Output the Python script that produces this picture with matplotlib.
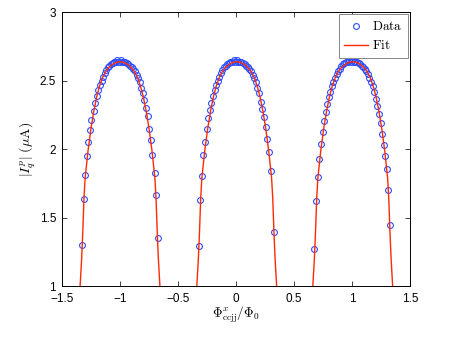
import matplotlib
matplotlib.use("Agg")
import matplotlib.pyplot as plt

plt.rcParams['mathtext.fontset'] = 'cm'
plt.rcParams['font.family'] = ['Liberation Sans', 'DejaVu Sans']

# ---- fit curve: one lobe profile (offset from lobe centre, current in uA)
fit_offsets = [-0.350, -0.340, -0.330, -0.320, -0.310, -0.300, -0.290, -0.275,
               -0.250, -0.225, -0.200, -0.175, -0.150, -0.125, -0.100, -0.075,
               -0.050, -0.025, 0.000, 0.025, 0.050, 0.075, 0.100, 0.125, 0.150,
               0.175, 0.200, 0.225, 0.250, 0.275, 0.290, 0.300, 0.310, 0.320,
               0.330, 0.340, 0.350]
fit_values = [0.90, 1.05, 1.20, 1.40, 1.64, 1.79, 1.87, 1.99,
              2.15, 2.28, 2.385, 2.465, 2.525, 2.565, 2.595, 2.614,
              2.628, 2.637, 2.640, 2.637, 2.628, 2.614, 2.595, 2.565, 2.525,
              2.465, 2.385, 2.28, 2.15, 1.99, 1.87, 1.79, 1.64, 1.40,
              1.20, 1.05, 0.90]
fit_centers = [-0.998, 0.006, 1.004]

# ---- measured data, three lobes
data_x_m1 = [-1.324, -1.310, -1.296, -1.281, -1.270, -1.259, -1.244, -1.226,
             -1.210, -1.197, -1.184, -1.170, -1.157, -1.143, -1.129, -1.116,
             -1.102, -1.089, -1.075, -1.061, -1.048, -1.034, -1.020, -1.007,
             -0.993, -0.979, -0.966, -0.952, -0.938, -0.925, -0.911, -0.897,
             -0.884, -0.870, -0.856, -0.843, -0.829, -0.815, -0.802, -0.788,
             -0.774, -0.761, -0.747, -0.733, -0.720, -0.700, -0.685, -0.674]
data_y_m1 = [1.30, 1.636, 1.814, 1.951, 2.053, 2.139, 2.217, 2.283,
             2.336, 2.39, 2.43, 2.47, 2.50, 2.53, 2.56, 2.58,
             2.60, 2.61, 2.62, 2.63, 2.64, 2.64, 2.65, 2.64,
             2.65, 2.64, 2.64, 2.64, 2.63, 2.62, 2.61, 2.60,
             2.59, 2.57, 2.54, 2.52, 2.49, 2.45, 2.41, 2.36,
             2.30, 2.24, 2.15, 2.07, 1.96, 1.829, 1.663, 1.351]

data_x_0 = [-0.318, -0.308, -0.296, -0.284, -0.267, -0.251, -0.237, -0.225,
            -0.211, -0.198, -0.185, -0.171, -0.158, -0.144, -0.130, -0.117,
            -0.103, -0.090, -0.076, -0.062, -0.049, -0.035, -0.021, -0.008,
            0.006, 0.020, 0.033, 0.047, 0.061, 0.074, 0.088, 0.102,
            0.115, 0.129, 0.143, 0.156, 0.170, 0.184, 0.197, 0.211,
            0.223, 0.243, 0.261, 0.269, 0.280, 0.301, 0.325]
data_y_0 = [1.29, 1.63, 1.807, 1.958, 2.056, 2.146, 2.227, 2.287,
            2.341, 2.39, 2.43, 2.47, 2.50, 2.53, 2.56, 2.58,
            2.60, 2.61, 2.62, 2.63, 2.64, 2.64, 2.65, 2.64,
            2.65, 2.64, 2.64, 2.64, 2.63, 2.62, 2.61, 2.60,
            2.59, 2.57, 2.54, 2.52, 2.49, 2.45, 2.41, 2.348,
            2.295, 2.239, 2.165, 2.075, 1.978, 1.843, 1.397]

data_x_p1 = [0.673, 0.688, 0.705, 0.718, 0.731, 0.744, 0.757, 0.771,
             0.784, 0.797, 0.811, 0.824, 0.838, 0.851, 0.865, 0.878,
             0.892, 0.905, 0.919, 0.932, 0.946, 0.959, 0.973, 0.986,
             1.000, 1.013, 1.027, 1.040, 1.054, 1.067, 1.081, 1.094,
             1.108, 1.121, 1.135, 1.148, 1.162, 1.175, 1.189, 1.202,
             1.216, 1.229, 1.243, 1.257, 1.272, 1.285, 1.298, 1.310, 1.322]
data_y_p1 = [1.268, 1.624, 1.80, 1.93, 2.04, 2.13, 2.21, 2.27,
             2.33, 2.38, 2.42, 2.46, 2.49, 2.52, 2.55, 2.57,
             2.59, 2.61, 2.62, 2.63, 2.64, 2.64, 2.65, 2.64,
             2.65, 2.64, 2.64, 2.64, 2.63, 2.62, 2.61, 2.60,
             2.59, 2.57, 2.55, 2.52, 2.49, 2.46, 2.42, 2.37,
             2.32, 2.26, 2.19, 2.11, 2.03, 1.95, 1.856, 1.70, 1.446]

x_ticks = [-1.5, -1, -0.5, 0, 0.5, 1, 1.5]
x_tick_labels = ['\u22121.5', '\u22121', '\u22120.5', '0', '0.5', '1', '1.5']
y_ticks = [1, 1.5, 2, 2.5, 3]
y_tick_labels = ['1', '1.5', '2', '2.5', '3']

fig = plt.figure(figsize=(4.5, 3.37), dpi=100)
ax = fig.add_axes([0.137, 0.151, 0.775, 0.812])

data_color = '#2b4cff'
fit_color = '#ff2a00'

first = True
for xs, ys in [(data_x_m1, data_y_m1), (data_x_0, data_y_0), (data_x_p1, data_y_p1)]:
    ax.plot(xs, ys, linestyle='none', marker='o', markersize=4.2,
            markerfacecolor='none', markeredgecolor=data_color,
            markeredgewidth=0.8, label=r'$\mathrm{Data}$' if first else None,
            zorder=2)
    first = False

first = True
for c in fit_centers:
    ax.plot([c + o for o in fit_offsets], fit_values, color=fit_color,
            linewidth=1.0, label=r'$\mathrm{Fit}$' if first else None, zorder=3)
    first = False

ax.set_xlim(-1.5, 1.5)
ax.set_ylim(1, 3)
ax.set_xticks(x_ticks)
ax.set_xticklabels(x_tick_labels)
ax.set_yticks(y_ticks)
ax.set_yticklabels(y_tick_labels)
ax.tick_params(direction='in', top=True, right=True, length=3.5,
               width=0.6, labelsize=8.5, colors='#222222', labelcolor='black')
ax.tick_params(axis='x', pad=5)
ax.tick_params(axis='y', pad=4)
for s in ax.spines.values():
    s.set_linewidth(0.7)

ax.set_xlabel(r'$\Phi^{x}_{\mathrm{ccjj}}/\Phi_0$', fontsize=9.5, labelpad=0)
ax.set_ylabel(r'$|I_q^p|$ $(\mu\mathrm{A})$', fontsize=10, labelpad=1)

leg = ax.legend(loc='upper right', fontsize=9.5, borderaxespad=0.15,
                fancybox=False, framealpha=1, edgecolor='#888888',
                handlelength=1.8, borderpad=0.45, labelspacing=0.45,
                handletextpad=0.3)
leg.get_frame().set_linewidth(0.7)

fig.savefig('out.png', dpi=100)
